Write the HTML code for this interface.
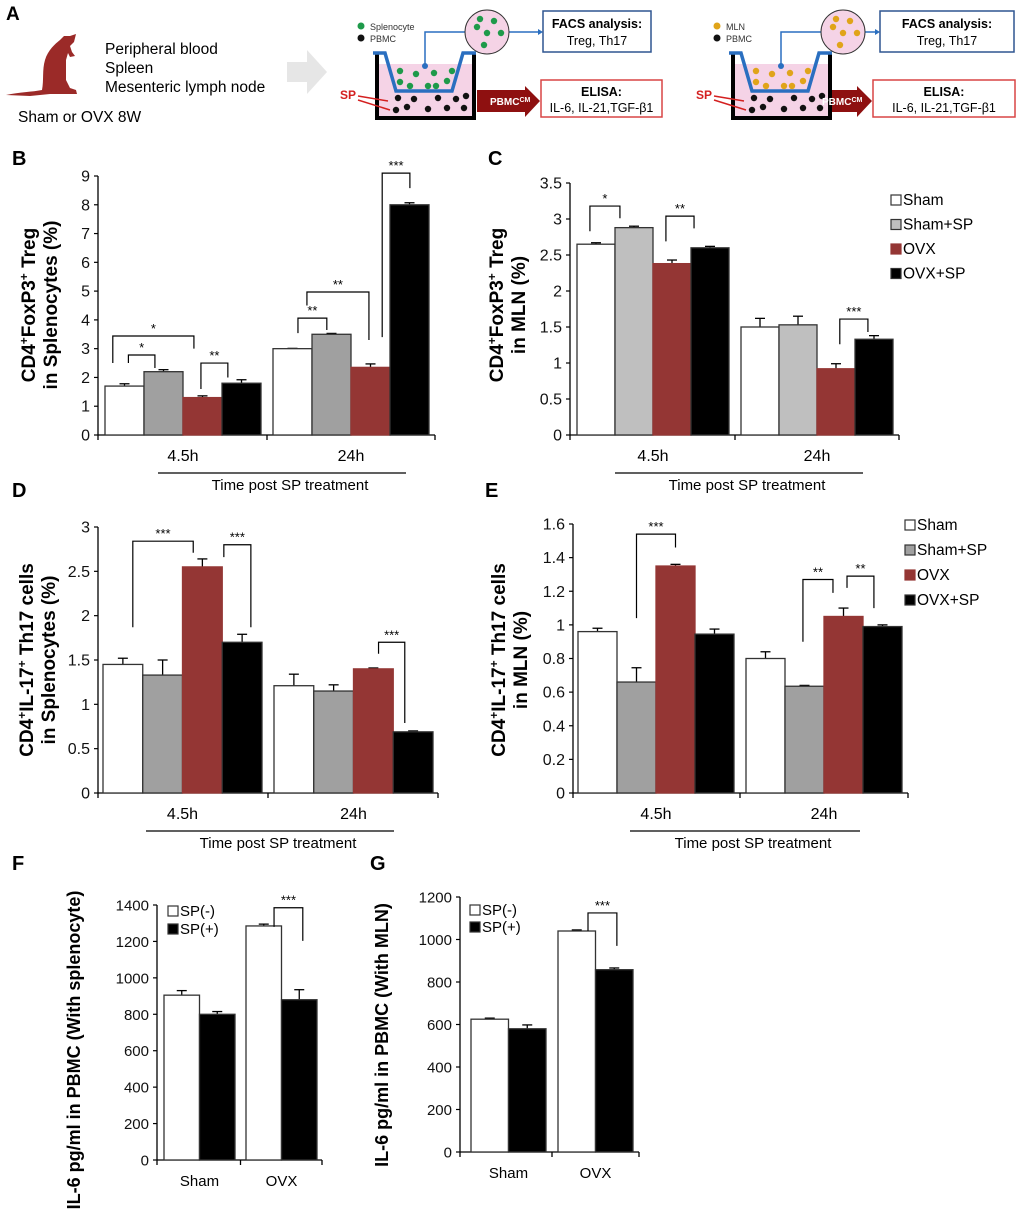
<!DOCTYPE html>
<html><head><meta charset="utf-8">
<style>
html,body{margin:0;padding:0;background:#fff}
svg{display:block;font-family:"Liberation Sans",Arial,sans-serif}
</style></head>
<body>
<svg id="fig" width="1020" height="1212" viewBox="0 0 1020 1212" xmlns="http://www.w3.org/2000/svg">
<g>
<text x="6" y="20" font-size="19" font-weight="bold">A</text>
<path fill="#9b2a28" d="M6,95 C20,92 32,92 42,90 C44,80 42,70 45,60 C48,50 55,44 60,40 L64,36 L70,36 L76,34 L74,42 L70,46 L72,52 L75,56 L70,57 L68,53 L66,60 L66,80 L70,88 L76,90 L77,94 L50,94 L30,96 Z"/>
<text x="105" y="54" font-size="15.5">Peripheral blood</text>
<text x="105" y="73" font-size="15.5">Spleen</text>
<text x="105" y="92" font-size="15.5">Mesenteric lymph node</text>
<text x="18" y="122" font-size="15.5">Sham or OVX 8W</text>
<path fill="#e6e6e6" d="M287,62 L307,62 L307,50 L327,72 L307,94 L307,82 L287,82 Z"/>
</g>
<g id="diag1"></g>
<g id="diag2"></g>
<g id="charts"></g>
</svg>
<script>
const NS="http://www.w3.org/2000/svg";
function mk(parent,tag,attrs,text){const e=document.createElementNS(NS,tag);for(const k in attrs)e.setAttribute(k,attrs[k]);if(text!==undefined)e.textContent=text;parent.appendChild(e);return e;}

function diagram(gid,dx,cellColor,cellName,facsX,facsW,elisaX,elisaW,arrowStart){
  const g=document.getElementById(gid);
  const ax2=elisaX-1;
  const arr=mk(g,'path',{d:`M${arrowStart},90 L${ax2-15},90 L${ax2-15},86 L${ax2},101 L${ax2-15},117 L${ax2-15},112 L${arrowStart},112Z`,fill:'#8e1010'});
  
  const pink=mk(g,'rect',{x:379+dx,y:64,width:93,height:52,fill:'#f5d3e6'});
  
  const well=mk(g,'path',{d:`M${377+dx},53 L${377+dx},118 L${474+dx},118 L${474+dx},53`,fill:'none',stroke:'#000','stroke-width':4});
  
  const ins=mk(g,'path',{d:`M${373+dx},53 L${385+dx},53 L${396+dx},91 L${452+dx},91 L${463+dx},53 L${476+dx},53`,fill:'none',stroke:'#2a6fc0','stroke-width':3.5});
  
  const line=mk(g,'path',{d:`M${425+dx},66 L${425+dx},32 L${465+dx},32 M${509+dx},32 L${facsX-2},32`,fill:'none',stroke:'#2a6fc0','stroke-width':1.5});
  
  mk(g,'circle',{cx:425+dx,cy:66,r:3,fill:'#2a6fc0'});
  mk(g,'path',{d:`M${facsX-5},29 L${facsX},32 L${facsX-5},35Z`,fill:'#2a6fc0'});
  const circ=mk(g,'circle',{cx:487+dx,cy:32,r:22,fill:'#f5d3e6',stroke:'#333','stroke-width':1});
  
  [[480,19],[494,21],[477,27],[487,33],[501,33],[484,45]].forEach(p=>mk(g,'circle',{cx:p[0]+dx,cy:p[1],r:3.2,fill:cellColor}));
  [[400,71],[416,74],[434,73],[452,71],[400,82],[410,86],[428,86],[436,86],[447,81]].forEach(p=>mk(g,'circle',{cx:p[0]+dx,cy:p[1],r:3.2,fill:cellColor}));
  [[398,98],[414,99],[438,98],[456,99],[466,96],[396,110],[407,107],[428,109],[447,108],[464,108]].forEach(p=>mk(g,'circle',{cx:p[0]+dx,cy:p[1],r:3.2,fill:'#111'}));
  mk(g,'circle',{cx:361+dx,cy:26,r:3.5,fill:cellColor});mk(g,'circle',{cx:361+dx,cy:38,r:3.5,fill:'#111'});
  const t1=mk(g,'text',{x:370+dx,y:30,'font-size':9,fill:'#333'},cellName);
  const t2=mk(g,'text',{x:370+dx,y:42,'font-size':9,fill:'#333'},'PBMC');
  const sp=mk(g,'text',{x:340+dx,y:99,'font-size':12,'font-weight':'bold',fill:'#d42020'},'SP');
  mk(g,'path',{d:`M${358+dx},96 L${388+dx},101 M${358+dx},100 L${390+dx},110`,stroke:'#d42020','stroke-width':1.5,fill:'none'});
  const at=mk(g,'text',{x:ax2-50,y:105,'font-size':10,'font-weight':'bold',fill:'#fff'},'PBMC');
  mk(at,'tspan',{'font-size':7,'baseline-shift':'super'},'CM');
  const fb=mk(g,'rect',{x:facsX,y:11,width:facsW,height:41,fill:'#fff',stroke:'#2f5591','stroke-width':1.5});
  
  mk(g,'text',{x:facsX+facsW/2,y:28,'font-size':12.5,'font-weight':'bold','text-anchor':'middle'},'FACS analysis:');
  mk(g,'text',{x:facsX+facsW/2,y:45,'font-size':12.5,'text-anchor':'middle'},'Treg, Th17');
  const eb=mk(g,'rect',{x:elisaX,y:80,width:elisaW,height:37,fill:'#fff',stroke:'#d94545','stroke-width':1.5});
  
  mk(g,'text',{x:elisaX+elisaW/2,y:96,'font-size':12.5,'font-weight':'bold','text-anchor':'middle'},'ELISA:');
  mk(g,'text',{x:elisaX+elisaW/2,y:112,'font-size':12.5,'text-anchor':'middle'},'IL-6, IL-21,TGF-β1');
}
diagram('diag1',0,'#1e9a4a','Splenocyte',543,108,541,121,477);
diagram('diag2',356,'#e0a419','MLN',880,134,873,142,808);

const groupLabels=['4.5h','24h'];
const seriesNames=['Sham','Sham+SP','OVX','OVX+SP'];
const bValues=[1.7,2.2,1.3,1.8, 3.0,3.5,2.35,8.0];
const bErrors=[0.08,0.07,0.06,0.12, 0.01,0.03,0.12,0.07];
const bTicks=[0,1,2,3,4,5,6,7,8,9];
const bSig=[[0.2,2.28,3.44,2.5,3.0,'*'],[0.6,1.28,2.78,2.5,2.33,'*'],[2.46,3.15,2.5,1.6,2.0,'**'],[4.64,5.38,4.06,3.54,3.65,'**'],[4.87,6.46,4.97,4.5,3.3,'**'],[6.8,7.51,9.1,3.4,8.58,'***']];
const cValues=[2.65,2.88,2.38,2.6, 1.5,1.53,0.92,1.33];
const cErrors=[0.02,0.02,0.05,0.02, 0.12,0.12,0.07,0.05];
const cTicks=[0,0.5,1,1.5,2,2.5,3,3.5];
const cSig=[[0.34,1.13,3.18,2.83,3.01,'*'],[2.34,3.08,3.04,2.69,2.87,'**'],[6.6,7.34,1.61,1.26,1.43,'***']];
const dValues=[1.45,1.33,2.55,1.7, 1.21,1.15,1.4,0.69];
const dErrors=[0.07,0.17,0.09,0.09, 0.13,0.07,0.01,0.01];
const dTicks=[0,0.5,1,1.5,2,2.5,3];
const dSig=[[0.75,2.27,2.84,1.87,2.71,'***'],[3.04,3.72,2.8,2.66,1.87,'***'],[6.63,7.29,1.7,1.57,0.79,'***']];
const eValues=[0.96,0.66,1.35,0.945, 0.8,0.635,1.05,0.99];
const eErrors=[0.02,0.085,0.01,0.03, 0.04,0.005,0.05,0.01];
const eTicks=[0,0.2,0.4,0.6,0.8,1,1.2,1.4,1.6];
const eSig=[[1.5,2.5,1.54,1.04,1.46,'***'],[5.46,6.23,1.27,0.9,1.19,'**'],[6.59,7.28,1.29,1.22,1.1,'**']];
const fCats=['Sham','OVX'];
const fSeries=['SP(-)','SP(+)'];
const fValues=[905,800,1285,880];
const fErrors=[25,15,10,55];
const fTicks=[0,200,400,600,800,1000,1200,1400];
const fSig=[[2.79,3.6,1385,1280,1203,'***']];
const gValues=[625,580,1040,858];
const gErrors=[5,18,5,8];
const gTicks=[0,200,400,600,800,1000,1200];
const gSig=[[2.8,3.57,1125,1040,970,'***']];

const fourColors=['#fff','#a0a0a0','#943634','#000'];
const fourColorsC=['#fff','#bfbfbf','#943634','#000'];

function chart(o){
  const g=mk(document.getElementById('charts'),'g',{});
  
  
  const ymax=o.ticks[o.ticks.length-1];
  const Y=v=>o.y0-(v/ymax)*(o.y0-o.yTop);
  const n=o.perGroup;
  const X=p=>{const gi=Math.floor(p/n);return o.gx[gi]+(p-gi*n)*o.bw;};
  const ax=mk(g,'line',{x1:o.ax0,y1:o.y0,x2:o.ax1,y2:o.y0,stroke:'#000','stroke-width':1.3});
  
  const ay=mk(g,'line',{x1:o.ax0,y1:o.y0,x2:o.ax0,y2:o.yTop,stroke:'#000','stroke-width':1.3});
  
  const mid=(o.gx[0]+n*o.bw+o.gx[1])/2;
  [o.ax0,mid,o.ax1].forEach(x=>mk(g,'line',{x1:x,y1:o.y0,x2:x,y2:o.y0+5,stroke:'#000','stroke-width':1.3}));
  o.ticks.forEach(t=>{
    mk(g,'line',{x1:o.ax0-4,y1:Y(t),x2:o.ax0,y2:Y(t),stroke:'#000','stroke-width':1.2});
    const tl=mk(g,'text',{x:o.ax0-8,y:Y(t)+5.5,'font-size':o.tfs||16,'text-anchor':'end',fill:'#111'},String(t));
    
    
  });
  o.values.forEach((v,i)=>{
    const x=X(i),y=Y(v),col=o.colors[i%n];
    const e=o.errors[i];
    mk(g,'line',{x1:x+o.bw/2,y1:y,x2:x+o.bw/2,y2:Y(v+e),stroke:'#000','stroke-width':1.3});
    mk(g,'line',{x1:x+o.bw/2-5,y1:Y(v+e),x2:x+o.bw/2+5,y2:Y(v+e),stroke:'#000','stroke-width':1.3});
    const r=mk(g,'rect',{x:x,y:y,width:o.bw,height:o.y0-y,fill:col,stroke:col==='#943634'?'#943634':'#333','stroke-width':1.3});
    
    
  });
  o.sig.forEach(s=>{
    const x1=X(s[0]),x2=X(s[1]);
    const b=mk(g,'path',{d:`M${x1},${Y(s[3])} L${x1},${Y(s[2])} L${x2},${Y(s[2])} L${x2},${Y(s[4])}`,fill:'none',stroke:'#000','stroke-width':1.2});
    
    
    const st=mk(g,'text',{x:(x1+x2)/2,y:Y(s[2])-3,'font-size':13,'text-anchor':'middle'},s[5]);
    
    
  });
  o.groups.forEach((lab,gi)=>{
    const gl=mk(g,'text',{x:o.gx[gi]+n*o.bw/2,y:o.y0+26,'font-size':o.gfs||16,'text-anchor':'middle'},lab);
    
    
  });
  if(o.timeLine){
    mk(g,'line',{x1:o.timeLine[0],y1:o.y0+38,x2:o.timeLine[1],y2:o.y0+38,stroke:'#000','stroke-width':1.3});
    const xt=mk(g,'text',{x:(o.timeLine[0]+o.timeLine[1])/2+8,y:o.y0+55,'font-size':15,'text-anchor':'middle'},'Time post SP treatment');
    
    
  }
  o.title.forEach((line,li)=>{
    const yt=mk(g,'text',{transform:`translate(${o.titleX+li*22},${o.titleY}) rotate(-90)`,'font-size':o.titleFs||19,'font-weight':'bold','text-anchor':'middle'});
    
    
    line.forEach(part=>{
      if(part[0]==='^') mk(yt,'tspan',{'font-size':12,'baseline-shift':'super'},part.slice(1));
      else mk(yt,'tspan',{},part);
    });
  });
  const pl=mk(g,'text',{x:o.letter[1],y:o.letter[2],'font-size':20,'font-weight':'bold'},o.letter[0]);
  
  
  if(o.legend){
    o.legend.names.forEach((nm,i)=>{
      const ly=o.legend.y+i*o.legend.dy;
      const sq=mk(g,'rect',{x:o.legend.x,y:ly-10,width:10,height:10,fill:o.colors[i],stroke:o.colors[i]==='#943634'?'#943634':'#333','stroke-width':1.2});
      
      
      const lt=mk(g,'text',{x:o.legend.x+12,y:ly,'font-size':o.legend.fs||15.5},nm);
      
      
    });
  }
}
const barNames8=['sham-4h','shamsp-4h','ovx-4h','ovxsp-4h','sham-24h','shamsp-24h','ovx-24h','ovxsp-24h'];
const barNames4=['sham-spneg','sham-sppos','ovx-spneg','ovx-sppos'];

chart({name:'chart-b-treg-splenocytes',values:bValues,errors:bErrors,ticks:bTicks,sig:bSig,y0:435,yTop:176,ax0:98,ax1:435,gx:[105,273],bw:39,perGroup:4,colors:fourColors,barNames:barNames8,groups:groupLabels,timeLine:[158,406],titleX:35,titleY:305,title:[['CD4','^+','FoxP3','^+',' Treg'],['in Splenocytes (%)']],letter:['B',12,165]});
chart({name:'chart-c-treg-mln',values:cValues,errors:cErrors,ticks:cTicks,sig:cSig,y0:435,yTop:183,ax0:570,ax1:899,gx:[577,741],bw:38,perGroup:4,colors:fourColorsC,barNames:barNames8,groups:groupLabels,timeLine:[615,863],titleX:503,titleY:305,title:[['CD4','^+','FoxP3','^+',' Treg'],['in MLN (%)']],letter:['C',488,165],legend:{names:seriesNames,x:891,y:205,dy:24.5}});
chart({name:'chart-d-th17-splenocytes',values:dValues,errors:dErrors,ticks:dTicks,sig:dSig,y0:793,yTop:527,ax0:98,ax1:438,gx:[103,274],bw:39.75,perGroup:4,colors:fourColors,barNames:barNames8,groups:groupLabels,timeLine:[146,394],titleX:33,titleY:660,title:[['CD4','^+','IL-17','^+',' Th17 cells'],['in Splenocytes (%)']],letter:['D',12,497]});
chart({name:'chart-e-th17-mln',values:eValues,errors:eErrors,ticks:eTicks,sig:eSig,y0:793,yTop:524,ax0:573,ax1:908,gx:[578,746],bw:39,perGroup:4,colors:fourColors,barNames:barNames8,groups:groupLabels,timeLine:[630,860],titleX:505,titleY:660,title:[['CD4','^+','IL-17','^+',' Th17 cells'],['in MLN (%)']],letter:['E',485,497],legend:{names:seriesNames,x:905,y:530,dy:25}});
chart({name:'chart-f-il6-splenocyte',values:fValues,errors:fErrors,ticks:fTicks,sig:fSig,y0:1160,yTop:905,ax0:157,ax1:322,gx:[164,246],bw:35.5,perGroup:2,colors:['#fff','#000'],barNames:barNames4,groups:fCats,titleX:80,titleY:1050,title:[['IL-6 pg/ml in PBMC (With splenocyte)']],letter:['F',12,870],legend:{names:fSeries,x:168,y:916,dy:18,fs:15},tfs:15,gfs:15,titleFs:18});
chart({name:'chart-g-il6-mln',values:gValues,errors:gErrors,ticks:gTicks,sig:gSig,y0:1152,yTop:897,ax0:460,ax1:639,gx:[471,558],bw:37.5,perGroup:2,colors:['#fff','#000'],barNames:barNames4,groups:fCats,titleX:388,titleY:1035,title:[['IL-6 pg/ml in PBMC (With MLN)']],letter:['G',370,870],legend:{names:fSeries,x:470,y:915,dy:17,fs:15},tfs:15,gfs:15,titleFs:18});
</script>
</body></html>
